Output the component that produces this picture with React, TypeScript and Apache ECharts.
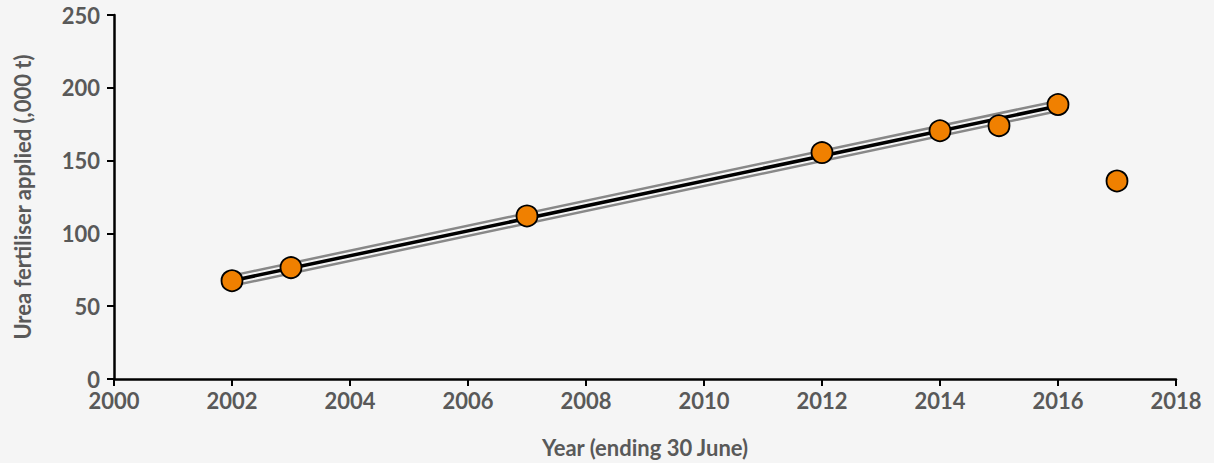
import React, { useEffect, useRef } from "react";
import * as echarts from "echarts";

const years = [2002, 2003, 2007, 2012, 2014, 2015, 2016, 2017];
const ureaApplied = [67.5, 76.5, 112, 155.5, 170.5, 174, 188.5, 136];
const trendYears = [2002, 2016];
const trendValues = [67.5, 187.5];
const trendUpper = [71, 191];
const trendLower = [64, 184];
const xTicks = [2000, 2018, 2];
const yTicks = [0, 250, 50];

const FONT = "Lato, 'Open Sans', sans-serif";
const GREY_TEXT = "#595959";

export default function App() {
  const ref = useRef<HTMLDivElement>(null);
  useEffect(() => {
    if (!ref.current) return;
    const chart = echarts.init(ref.current, undefined, { renderer: "svg" });
    const pair = (xs: number[], ys: number[]) => xs.map((x, i) => [x, ys[i]]);
    chart.setOption({
      animation: false,
      backgroundColor: "#f5f5f5",
      grid: { left: 114, right: 38, top: 15, bottom: 83 },
      xAxis: {
        type: "value",
        min: xTicks[0],
        max: xTicks[1],
        interval: xTicks[2],
        name: "Year (ending 30 June)",
        nameLocation: "middle",
        nameGap: 57,
        nameTextStyle: { color: GREY_TEXT, fontFamily: FONT, fontWeight: "bold", fontSize: 22 },
        axisLine: { lineStyle: { color: "#000", width: 2.5 } },
        axisTick: { show: true, length: 7, lineStyle: { color: "#000", width: 2 } },
        axisLabel: {
          color: GREY_TEXT,
          fontFamily: FONT,
          fontWeight: "bold",
          fontSize: 22,
          margin: 10,
          formatter: (v: number) => String(v),
        },
        splitLine: { show: false },
      },
      yAxis: {
        type: "value",
        min: yTicks[0],
        max: yTicks[1],
        interval: yTicks[2],
        axisLine: { show: true, lineStyle: { color: "#000", width: 2.5 } },
        axisTick: { show: true, length: 7, lineStyle: { color: "#000", width: 2 } },
        axisLabel: { color: GREY_TEXT, fontFamily: FONT, fontWeight: "bold", fontSize: 22, margin: 14 },
        splitLine: { show: false },
      },
      graphic: [
        {
          type: "text",
          x: 22,
          y: 197,
          rotation: Math.PI / 2,
          style: {
            text: "Urea fertiliser applied (,000 t)",
            fill: GREY_TEXT,
            font: `bold 22px ${FONT}`,
            align: "center",
            verticalAlign: "middle",
          },
        },
      ],
      series: [
        {
          type: "line",
          data: pair(trendYears, trendUpper),
          symbol: "none",
          lineStyle: { color: "#888888", width: 2.5 },
          z: 1,
        },
        {
          type: "line",
          data: pair(trendYears, trendLower),
          symbol: "none",
          lineStyle: { color: "#888888", width: 2.5 },
          z: 1,
        },
        {
          type: "line",
          data: pair(trendYears, trendValues),
          symbol: "none",
          lineStyle: { color: "#000", width: 3.5 },
          z: 2,
        },
        {
          type: "scatter",
          data: pair(years, ureaApplied),
          symbolSize: 21,
          itemStyle: { color: "#f08000", borderColor: "#000", borderWidth: 1.8, opacity: 1 },
          z: 3,
        },
      ],
    });
    return () => chart.dispose();
  }, []);
  return (
    <div
      ref={ref}
      style={{ position: "fixed", left: 0, top: 0, width: 1214, height: 463 }}
    />
  );
}
